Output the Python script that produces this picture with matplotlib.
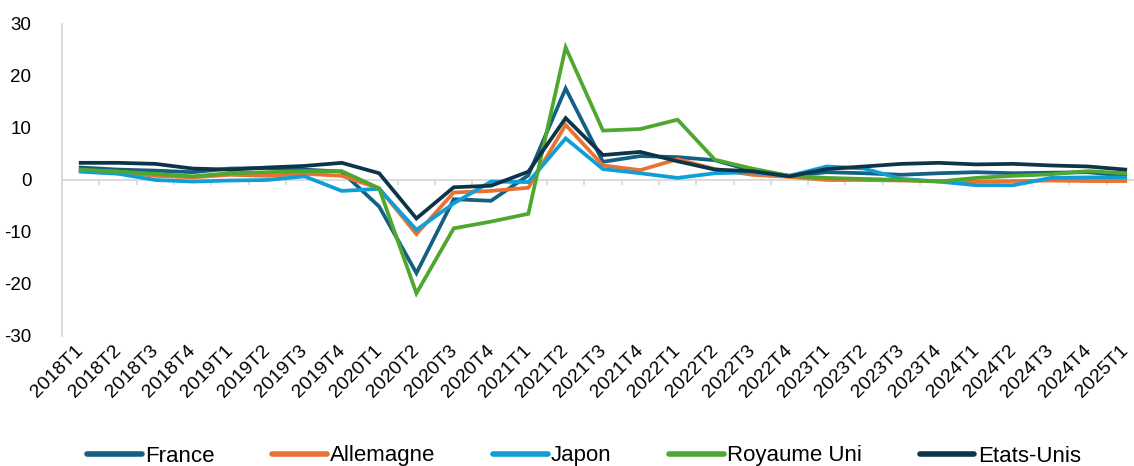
import numpy as np
import matplotlib
matplotlib.use("Agg")
import matplotlib.pyplot as plt
from matplotlib.transforms import ScaledTranslation

plt.rcParams['font.family'] = ['Liberation Sans', 'DejaVu Sans']
plt.rcParams['axes.unicode_minus'] = False

quarters = [f"{y}T{q}" for y in range(2018, 2025) for q in range(1, 5)] + ["2025T1"]

france = [2.4, 2.0, 1.8, 1.5, 2.2, 2.3, 2.0, 1.6, -5.1, -17.9, -3.7, -4.0, 0.9,
          17.6, 3.5, 4.6, 4.4, 3.8, 1.8, 0.8, 1.5, 1.3, 1.0, 1.3, 1.5, 1.3, 1.4, 1.5, 0.8]
allemagne = [1.8, 1.6, 0.8, 0.5, 1.0, 0.8, 1.2, 0.8, -1.6, -10.4, -2.4, -2.1, -1.5,
             10.6, 2.8, 1.9, 4.0, 2.1, 1.0, 0.6, 0.0, 0.0, -0.1, -0.2, -0.3, -0.2, -0.1, -0.2, -0.2]
japon = [1.6, 1.2, 0.0, -0.3, -0.1, 0.0, 0.7, -2.1, -1.7, -9.6, -4.5, -0.3, -0.4,
         8.0, 2.1, 1.3, 0.4, 1.3, 1.5, 0.8, 2.6, 2.2, 0.2, -0.3, -1.0, -1.0, 0.4, 0.5, 0.5]
royaume_uni = [2.0, 1.6, 1.2, 0.7, 1.3, 1.5, 1.7, 1.7, -1.6, -21.8, -9.3, -8.0, -6.5,
               25.5, 9.5, 9.8, 11.6, 3.9, 2.2, 0.8, 0.4, 0.2, 0.0, -0.3, 0.4, 0.8, 1.1, 1.7, 1.3]
etats_unis = [3.3, 3.3, 3.1, 2.2, 2.0, 2.4, 2.7, 3.3, 1.3, -7.4, -1.4, -1.1, 1.6,
              11.9, 4.8, 5.4, 3.6, 2.0, 1.7, 0.7, 2.1, 2.6, 3.1, 3.3, 3.0, 3.1, 2.8, 2.6, 2.0]

series = [
    ("France", france, "#156082"),
    ("Allemagne", allemagne, "#E97132"),
    ("Japon", japon, "#0F9ED5"),
    ("Royaume Uni", royaume_uni, "#4EA72E"),
    ("Etats-Unis", etats_unis, "#0D3548"),
]

fig = plt.figure(figsize=(11.34, 4.66), dpi=100)
ax = fig.add_axes([0.0547, 0.279, 0.954, 0.6695])

x = np.arange(len(quarters))
grid_col = "#D9D9D9"

# zero line with category tick marks hanging below it
ax.axhline(0, color=grid_col, lw=1.3, zorder=1)
ax.vlines(np.arange(len(quarters) + 1) - 0.5, -1.0, 0, color=grid_col, lw=1.3, zorder=1)

for name, vals, col in series:
    ax.plot(x, vals, color=col, lw=2.7, label=name, solid_joinstyle="miter", zorder=3)

ax.set_xlim(-0.5, len(quarters) - 0.5)
ax.set_ylim(-30, 30)
ax.set_yticks(range(-30, 31, 10))
ax.set_xticks([])

# rotated quarter labels under the plot, set a little left of each category centre
lab_tr = ax.get_xaxis_transform() + ScaledTranslation(-4 / 72, -4.5 / 72, fig.dpi_scale_trans)
for xi, q in zip(x, quarters):
    ax.text(xi, 0, q, transform=lab_tr, rotation=45, ha="right", va="top",
            rotation_mode="anchor", fontsize=14, color="#000000", clip_on=False)

for s in ["top", "right", "bottom"]:
    ax.spines[s].set_visible(False)
ax.spines["left"].set_color(grid_col)
ax.spines["left"].set_linewidth(1.3)

ax.tick_params(axis="y", length=0, pad=22, labelsize=13.5, colors="#000000")

fig.legend(loc="center", bbox_to_anchor=(584 / 1134, 1 - 456 / 466), ncol=5,
           frameon=False, fontsize=16, handlelength=2.45, handletextpad=0.15,
           columnspacing=2.6)
for line in fig.legends[0].get_lines():
    line.set_linewidth(4)
    line.set_solid_capstyle("round")

fig.savefig("out.png", dpi=100)
